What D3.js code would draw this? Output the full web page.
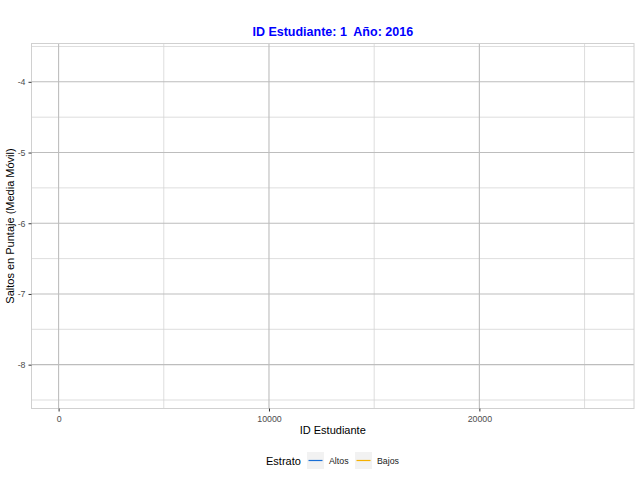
<!DOCTYPE html>
<html>
<head>
<meta charset="utf-8">
<script src="https://cdn.jsdelivr.net/npm/d3@7"></script>
<style>
  body { margin: 0; background: #fff; }
  text { font-family: "Liberation Sans", Arial, sans-serif; }
</style>
</head>
<body>
<svg id="chart" width="640" height="480"></svg>
<script>
// data (frame 1: no points drawn yet)
const estratos = ['Altos', 'Bajos']
const colores = ['#1a6fd6', '#f5b000']
const altos = []   // {id, salto}
const bajos = []
const xDomain = [-1288, 27350]
const yDomain = [-8.62, -3.458]
const xTicks = [0, 10000, 20000]
const xMinor = [5000, 15000, 25000]
const yTicks = [-8, -7, -6, -5, -4]
const yMinor = [-8.5, -7.5, -6.5, -5.5, -4.5, -3.5]

const width = 640
const height = 480
const margin = {top: 43.5, right: 6, bottom: 71.5, left: 31.5}
const graphWidth = width - margin.left - margin.right
const graphHeight = height - margin.top - margin.bottom

const svg = d3.select('#chart')

const xScale = d3.scaleLinear().domain(xDomain).range([0, graphWidth])
const yScale = d3.scaleLinear().domain(yDomain).range([graphHeight, 0])

const g = svg.append('g')
  .attr('transform', `translate(${margin.left}, ${margin.top})`)

// minor grid
g.selectAll('.xminor').data(xMinor).join('line')
  .attr('x1', d => xScale(d)).attr('x2', d => xScale(d))
  .attr('y1', 0).attr('y2', graphHeight)
  .attr('stroke', '#d4d4d4').attr('stroke-width', 0.8)
g.selectAll('.yminor').data(yMinor).join('line')
  .attr('y1', d => yScale(d)).attr('y2', d => yScale(d))
  .attr('x1', 0).attr('x2', graphWidth)
  .attr('stroke', '#d4d4d4').attr('stroke-width', 0.8)

// major grid
g.selectAll('.xmajor').data(xTicks).join('line')
  .attr('x1', d => xScale(d)).attr('x2', d => xScale(d))
  .attr('y1', 0).attr('y2', graphHeight)
  .attr('stroke', '#bdbdbd').attr('stroke-width', 1.1)
g.selectAll('.ymajor').data(yTicks).join('line')
  .attr('y1', d => yScale(d)).attr('y2', d => yScale(d))
  .attr('x1', 0).attr('x2', graphWidth)
  .attr('stroke', '#bdbdbd').attr('stroke-width', 1.1)

// series
const line = d3.line().x(d => xScale(d.id)).y(d => yScale(d.salto))
;[altos, bajos].forEach((serie, i) => {
  g.append('path')
    .datum(serie)
    .attr('fill', 'none')
    .attr('stroke', colores[i])
    .attr('stroke-width', 1)
    .attr('d', line)
})

// panel border
g.append('rect')
  .attr('width', graphWidth).attr('height', graphHeight)
  .attr('fill', 'none').attr('stroke', '#d0d0d0').attr('stroke-width', 1)

// axes
const xAxis = d3.axisBottom(xScale).tickValues(xTicks).tickSize(3).tickPadding(4).tickFormat(d3.format('d'))
const yAxis = d3.axisLeft(yScale).tickValues(yTicks).tickSize(3).tickPadding(3).tickFormat(d => d)

const gx = g.append('g')
  .attr('transform', `translate(0, ${graphHeight})`)
  .call(xAxis)
const gy = g.append('g').call(yAxis)
;[gx, gy].forEach(a => {
  a.select('.domain').remove()
  a.selectAll('.tick line').attr('stroke', '#333')
  a.selectAll('.tick text').attr('fill', '#4d4d4d').style('font-size', '8.8px')
})
gy.selectAll('.tick text').text(d => '-' + Math.abs(d))

// titles
svg.append('text')
  .attr('x', margin.left + graphWidth / 2).attr('y', 36)
  .attr('text-anchor', 'middle')
  .style('white-space', 'pre')
  .attr('fill', '#0000ff').style('font-size', '12.5px').style('font-weight', 'bold')
  .text('ID Estudiante: 1  Año: 2016')

svg.append('text')
  .attr('x', margin.left + graphWidth / 2).attr('y', 434)
  .attr('text-anchor', 'middle')
  .style('font-size', '11px')
  .text('ID Estudiante')

svg.append('text')
  .attr('transform', `translate(14, ${margin.top + graphHeight / 2}) rotate(-90)`)
  .attr('text-anchor', 'middle')
  .style('font-size', '11px')
  .text('Saltos en Puntaje (Media Móvil)')

// legend
const legend = svg.append('g').attr('transform', 'translate(266, 452)')
legend.append('text').attr('x', 0).attr('y', 12.5).style('font-size', '11px').text('Estrato')
const keyX = [41, 89]
estratos.forEach((e, i) => {
  const k = legend.append('g').attr('transform', `translate(${keyX[i]}, 0)`)
  k.append('rect').attr('width', 17).attr('height', 17).attr('fill', '#f2f2f2')
  k.append('line').attr('x1', 1.5).attr('x2', 15.5).attr('y1', 8.5).attr('y2', 8.5)
    .attr('stroke', colores[i]).attr('stroke-width', 1.2)
  k.append('text').attr('x', 22).attr('y', 11.5).style('font-size', '8.8px').attr('fill', '#1a1a1a').text(e)
})
</script>
</body>
</html>
